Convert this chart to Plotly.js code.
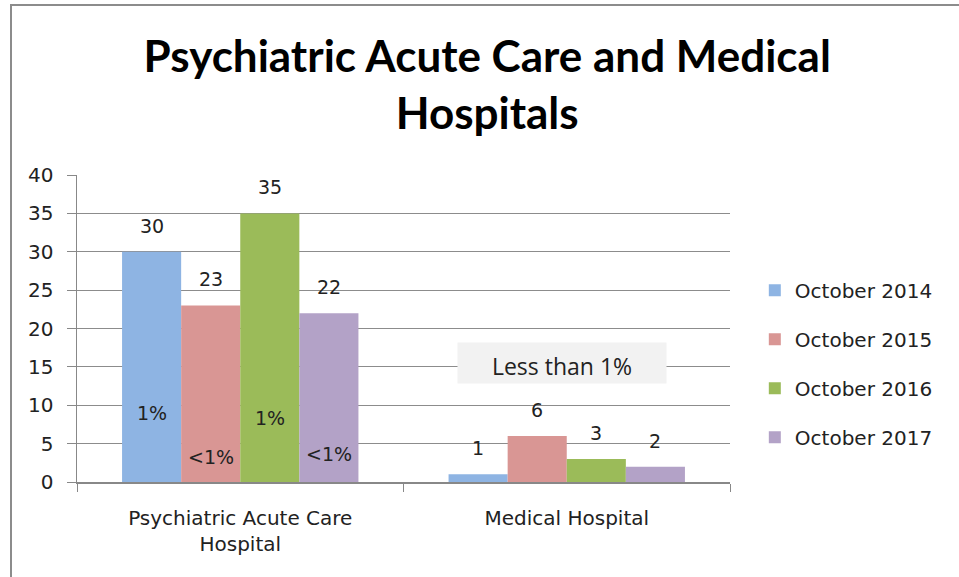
<!DOCTYPE html>
<html><head><meta charset="utf-8">
<script src="https://cdn.plot.ly/plotly-3.0.1.min.js"></script>
<style>
body{margin:0;padding:0;background:#fff;}
#frame{position:absolute;left:10px;top:4px;width:960px;height:580px;border-left:2px solid #8c8c8c;border-top:2px solid #8c8c8c;box-sizing:border-box;pointer-events:none;}
#chart{position:absolute;left:0;top:0;width:959px;height:577px;}
</style></head>
<body>
<div id="chart"></div><div id="frame"></div>
<script>
const categories = ["Psychiatric Acute Care<br>Hospital", "Medical Hospital"];
const seriesNames = ["October 2014", "October 2015", "October 2016", "October 2017"];
const values = {
  "October 2014": [30, 1],
  "October 2015": [23, 6],
  "October 2016": [35, 3],
  "October 2017": [22, 2]
};
const colors = ["#8eb4e3", "#d99694", "#9bbb59", "#b3a2c7"];
const insideLabels = [["1%", ""], ["<1%", ""], ["1%", ""], ["<1%", ""]];
const insideLabelY = [[9, null], [3.2, null], [8.3, null], [3.7, null]];
const noteText = "Less than 1%";
const yTicks = [0, 5, 10, 15, 20, 25, 30, 35, 40];

const bargap = 0.276;
const nS = seriesNames.length;
const bw = (1 - bargap) / nS;

const traces = seriesNames.map((name, j) => ({
  type: "bar", name: name, x: categories, y: values[name], legendgroup: "g" + j,
  marker: {color: colors[j]}, hoverinfo: "skip"
}));

const fam = "DejaVu Sans, Verdana, sans-serif";
const annotations = [];
const font = {family: fam, size: 19, color: "#222"};
seriesNames.forEach((name, j) => {
  values[name].forEach((v, i) => {
    const xpos = i + (j - (nS - 1) / 2) * bw;
    annotations.push({x: xpos, y: v, xref: "x", yref: "y", text: String(v), showarrow: false,
      yshift: 26, font: font});
    if (insideLabels[j][i]) {
      annotations.push({x: xpos, y: insideLabelY[j][i], xref: "x", yref: "y", text: insideLabels[j][i],
        showarrow: false, font: font});
    }
  });
});
annotations.push({x: 1, y: 15.5, xref: "x", yref: "y", text: noteText, showarrow: false,
  bgcolor: "#f2f2f2", font: {family: "Open Sans, sans-serif", size: 23, color: "#222"},
  width: 206, height: 38, valign: "bottom", xshift: -5, yshift: 0});

const layout = {
  width: 959, height: 577,
  margin: {l: 77, r: 229, t: 175, b: 95},
  paper_bgcolor: "#fff", plot_bgcolor: "#fff",
  title: {text: "Psychiatric Acute Care and Medical<br>Hospitals", x: 0.508, xanchor: "center",
    xref: "container", y: 0.876, yref: "container", yanchor: "middle",
    font: {family: "Lato, sans-serif", size: 44, color: "#000", weight: "bold"}},
  barmode: "group", bargap: bargap, bargroupgap: 0,
  xaxis: {type: "category", showline: true, linecolor: "#888", linewidth: 1.5,
    ticks: "outside", tickson: "boundaries", ticklen: 8, tickcolor: "#888",
    ticklabelstandoff: 17,
    tickfont: {family: fam, size: 20, color: "#222"}, showgrid: false},
  yaxis: {range: [0, 40], tickvals: yTicks, showline: true, linecolor: "#888", linewidth: 1.5,
    ticks: "outside", ticklen: 9, tickcolor: "#888", gridcolor: "#8c8c8c", gridwidth: 1.2,
    ticklabelstandoff: 9,
    tickfont: {family: fam, size: 20, color: "#222"}, zeroline: false},
  legend: {x: 1.038, y: 0.385, xanchor: "left", yanchor: "middle", traceorder: "grouped",
    font: {family: fam, size: 20, color: "#222"}, tracegroupgap: 20,
    itemwidth: 30},
  showlegend: true,
  annotations: annotations
};
Plotly.newPlot("chart", traces, layout, {staticPlot: true});
</script>
</body></html>
